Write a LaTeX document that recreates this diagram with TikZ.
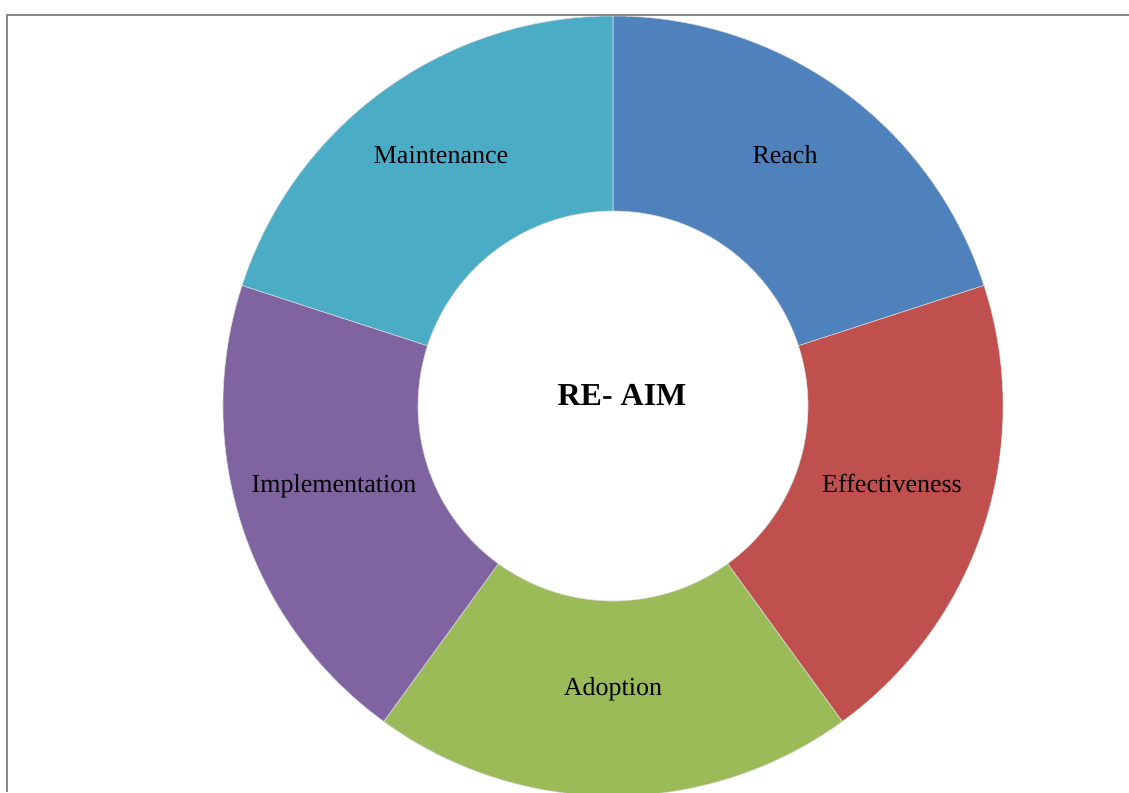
\documentclass[tikz,border=0pt]{standalone}
\usepackage{fontspec}
\setmainfont{Liberation Serif}
\usetikzlibrary{calc}
\definecolor{cReach}{HTML}{4F81BD}
\definecolor{cEff}{HTML}{C0504D}
\definecolor{cAdo}{HTML}{9BBB59}
\definecolor{cImp}{HTML}{8064A2}
\definecolor{cMai}{HTML}{4BACC6}
\definecolor{frame}{HTML}{888888}
\tikzset{
  seg/.style={draw=white!85!black, line width=0.6pt},
  lbl/.style={font=\fontsize{26}{30}\selectfont, text=black, inner sep=0pt},
  ttl/.style={font=\fontsize{32}{36}\selectfont\bfseries, text=black, inner sep=0pt},
  frm/.style={draw=frame, line width=2pt}
}
\newcommand{\donutseg}[3]{%
  \fill[#3, seg] ($(c)+(#1:390)$) arc[start angle=#1, end angle=#2, radius=390]
    -- ($(c)+(#2:195)$) arc[start angle=#2, end angle=#1, radius=195] -- cycle;}
\begin{document}
\begin{tikzpicture}[x=1pt,y=1pt]
\useasboundingbox (0,0) rectangle (1129,792);
\clip (0,0) rectangle (1129,792);
\coordinate (c) at (613,386);
\donutseg{18}{90}{cReach}
\donutseg{-54}{18}{cEff}
\donutseg{-126}{-54}{cAdo}
\donutseg{162}{234}{cImp}
\donutseg{90}{162}{cMai}
\node[lbl] (reach) at (785,637) {Reach};
\node[lbl] (eff) at (892,309) {Effectiveness};
\node[lbl] (ado) at (613,103) {Adoption};
\node[lbl] (imp) at (334,306) {Implementation};
\node[lbl] (mai) at (441,637) {Maintenance};
\node[ttl] (title) at (622,397) {RE- AIM};
\coordinate (ftl) at (6.5,776.5);
\coordinate (ftr) at (1129,776.5);
\coordinate (fbl) at (6.5,0);
\draw[frm] (fbl) -- (ftl) -- (ftr);
\end{tikzpicture}
\end{document}
